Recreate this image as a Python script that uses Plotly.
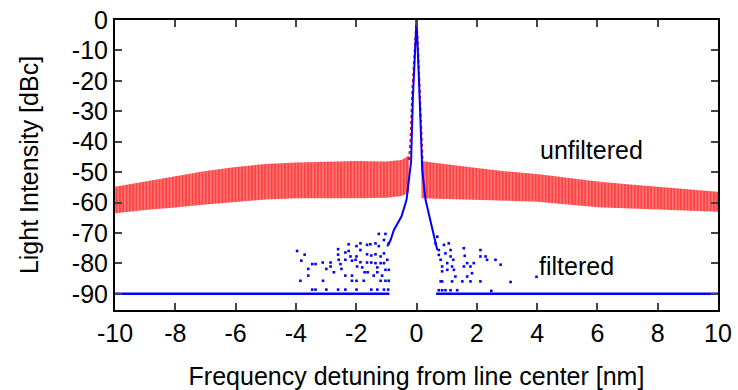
import plotly.graph_objects as go

# ---- data ----
# unfiltered comb: envelope of comb lines (top / bottom), left and right of carrier
band_x_left = [-10, -9, -8, -7, -6, -5, -4, -3, -2, -1, -0.5, -0.25]
band_top_left = [-54.8, -53.0, -51.2, -49.6, -48.3, -47.3, -46.8, -46.5, -46.3, -46.5, -46.0, -44.5]
band_bot_left = [-63.5, -62.4, -61.6, -60.6, -59.7, -59.0, -58.6, -58.6, -58.6, -58.4, -57.8, -56.8]
band_x_right = [0.16, 0.5, 1, 2, 3, 4, 5, 6, 7, 8, 9, 10]
band_top_right = [-46.3, -46.8, -47.4, -48.6, -49.8, -50.6, -51.9, -53.1, -54.0, -54.8, -55.6, -56.4]
band_bot_right = [-58.6, -58.7, -58.8, -59.1, -59.4, -59.7, -60.6, -61.5, -61.9, -62.2, -62.6, -63.0]

# unfiltered carrier peak
red_peak_x = [-0.25, -0.2, -0.14, -0.1, -0.05, 0, 0.05, 0.1, 0.15, 0.2]
red_peak_y = [-46.0, -40.0, -23.7, -16.0, -8.0, 0, -9.0, -22.0, -35.0, -46.0]

# filtered carrier peak
blue_peak_x = [-0.97, -0.86, -0.75, -0.5, -0.33, -0.22, -0.18, -0.12, -0.09, 0,
               0.08, 0.16, 0.19, 0.30, 0.44, 0.57, 0.69]
blue_peak_y = [-74.4, -72.3, -69.0, -64.6, -59.1, -49.3, -46.6, -25.6, -19.1, 0,
               -19.1, -46.6, -49.3, -59.1, -64.6, -70.6, -75.6]

# filtered noise floor
floor_level = -90
floor_x_left = [-10, -0.9]
floor_x_right = [0.65, 10]

# filtered scattered noise samples
dots_x = [-3.96, -3.82, -3.71, -3.59, -3.85, -3.59, -3.46, -3.35, -3.11, -3.10,
          -2.99, -2.85, -2.85, -2.74, -2.60, -2.60, -2.58, -2.52, -2.49, -2.36,
          -2.36, -2.36, -2.25, -2.25, -2.19, -2.14, -2.14, -2.14, -2.02, -1.99,
          -1.99, -1.97, -1.86, -1.86, -1.86, -1.80, -1.72, -1.64, -1.64, -1.64,
          -1.62, -1.53, -1.50, -1.50, -1.42, -1.36, -1.36, -1.36, -1.30, -1.30,
          -1.25, -1.25, -1.19, -1.19, -1.14, -1.08, -1.08, -1.08, -1.03, -1.03,
          -1.03, -0.97, -0.92, -0.92, -0.92, -1.99, -1.75, -1.19,
          -3.46, -3.35, -2.99, -2.60, -2.36, -1.99, -1.50, -1.30, -1.08, -0.94,
          0.63, 0.69, 0.74, 0.74, 0.80, 0.85, 0.85, 0.80, 0.91, 0.96,
          1.02, 1.07, 1.13, 1.13, 1.18, 1.22, 1.24, 1.29, 1.57, 1.60,
          1.57, 1.68, 1.68, 1.79, 1.84, 1.90, 2.12, 2.12, 2.12, 2.29,
          2.34, 2.62, 2.79, 3.12, 1.18, 1.52, 1.79, 1.02, 0.85, 3.98,
          0.74, 0.85, 0.96, 1.13, 1.35, 2.48]
dots_y = [-75.9, -79.1, -77.1, -81.8, -85.7, -84.0, -80.2, -80.2, -79.7, -85.7,
          -81.8, -79.7, -81.0, -82.9, -75.3, -77.1, -78.8, -80.2, -81.8, -76.4,
          -78.8, -84.0, -73.7, -75.9, -77.7, -79.1, -84.0, -85.7, -78.8, -74.3,
          -77.7, -81.0, -73.4, -75.6, -79.6, -81.3, -82.9, -73.9, -77.0, -79.7,
          -82.9, -73.7, -77.4, -79.7, -84.0, -73.4, -77.0, -79.9, -81.3, -82.9,
          -70.3, -74.3, -77.7, -79.9, -84.0, -72.3, -76.7, -79.9, -70.3, -82.1,
          -85.7, -78.8, -73.4, -82.1, -85.7, -85.7, -85.7, -85.7,
          -88.6, -88.6, -88.6, -88.6, -88.6, -88.6, -88.6, -88.6, -88.6, -88.6,
          -73.4, -71.2, -75.6, -77.2, -78.8, -81.0, -82.6, -85.9, -73.9, -76.7,
          -79.9, -73.4, -75.6, -77.7, -81.0, -78.8, -82.1, -84.3, -75.0, -77.5,
          -81.0, -79.9, -84.3, -81.0, -83.2, -79.9, -75.6, -77.7, -85.9, -77.7,
          -78.8, -78.8, -80.4, -86.1, -85.9, -85.9, -85.9, -82.1, -85.9, -84.4,
          -88.8, -88.8, -88.8, -88.8, -88.8, -89.0]

x_ticks = [-10, -8, -6, -4, -2, 0, 2, 4, 6, 8, 10]
y_ticks = [0, -10, -20, -30, -40, -50, -60, -70, -80, -90]

label_unfiltered = "unfiltered"
label_filtered = "filtered"

# ---- figure ----
RED = "#ff0000"
BLUE = "#0000ff"
FONT = "Liberation Sans, Arial, sans-serif"
FS = 25

fig = go.Figure()

# comb band (closed polygons, two segments separated by a gap)
poly_x = (band_x_left + band_x_left[::-1] + [None] +
          band_x_right + band_x_right[::-1])
poly_y = (band_top_left + band_bot_left[::-1] + [None] +
          band_top_right + band_bot_right[::-1])
fig.add_trace(go.Scatter(
    x=poly_x, y=poly_y, mode="lines", fill="toself",
    line=dict(width=0, color=RED),
    fillcolor="rgba(255,0,0,0.5)",
    fillpattern=dict(shape="|", size=3.3, solidity=0.6,
                     fgcolor=RED, bgcolor="rgba(255,130,130,1)"),
    hoverinfo="skip", showlegend=False))

# unfiltered peak
fig.add_trace(go.Scatter(x=red_peak_x, y=red_peak_y, mode="lines",
                         line=dict(color=RED, width=2, dash="dot"),
                         showlegend=False))

# filtered noise floor
fig.add_trace(go.Scatter(x=floor_x_left, y=[floor_level] * len(floor_x_left),
                         mode="lines", line=dict(color=BLUE, width=2.5),
                         showlegend=False))
fig.add_trace(go.Scatter(x=floor_x_right, y=[floor_level] * len(floor_x_right),
                         mode="lines", line=dict(color=BLUE, width=2.5),
                         showlegend=False))

# filtered scattered samples
fig.add_trace(go.Scatter(x=dots_x, y=dots_y, mode="markers",
                         marker=dict(color=BLUE, size=2.6, symbol="square"),
                         showlegend=False))

# filtered peak
fig.add_trace(go.Scatter(x=blue_peak_x, y=blue_peak_y, mode="lines",
                         line=dict(color=BLUE, width=2),
                         showlegend=False))

fig.add_annotation(x=5.8, y=-42.7, text=label_unfiltered, showarrow=False,
                   font=dict(size=FS, color="black", family=FONT))
fig.add_annotation(x=5.3, y=-81.0, text=label_filtered, showarrow=False,
                   font=dict(size=FS, color="black", family=FONT))

axis_common = dict(
    showgrid=False, zeroline=False, showline=True, linecolor="black",
    linewidth=2, mirror="ticks", ticks="inside", ticklen=7, tickwidth=1.5,
    tickcolor="#444444", tickfont=dict(size=FS, color="black", family=FONT),
)

fig.update_xaxes(range=[-10, 10], tickvals=x_ticks,
                 ticktext=[str(v) for v in x_ticks],
                 title=dict(text="Frequency detuning from line center [nm]",
                            font=dict(size=FS, color="black", family=FONT),
                            standoff=22),
                 **axis_common)
fig.update_yaxes(range=[-95.3, 0], tickvals=y_ticks,
                 ticktext=[str(v) for v in y_ticks],
                 title=dict(text="Light Intensity [dBc]",
                            font=dict(size=FS, color="black", family=FONT),
                            standoff=26),
                 **axis_common)

fig.update_layout(
    width=738, height=390,
    margin=dict(l=115, r=20, t=20, b=80, autoexpand=False),
    plot_bgcolor="white", paper_bgcolor="white",
    font=dict(family=FONT, color="black"),
    showlegend=False,
)

fig.write_html("out.html", config={"displayModeBar": False},
               post_script="document.body.style.margin='0';document.body.style.padding='0';")
